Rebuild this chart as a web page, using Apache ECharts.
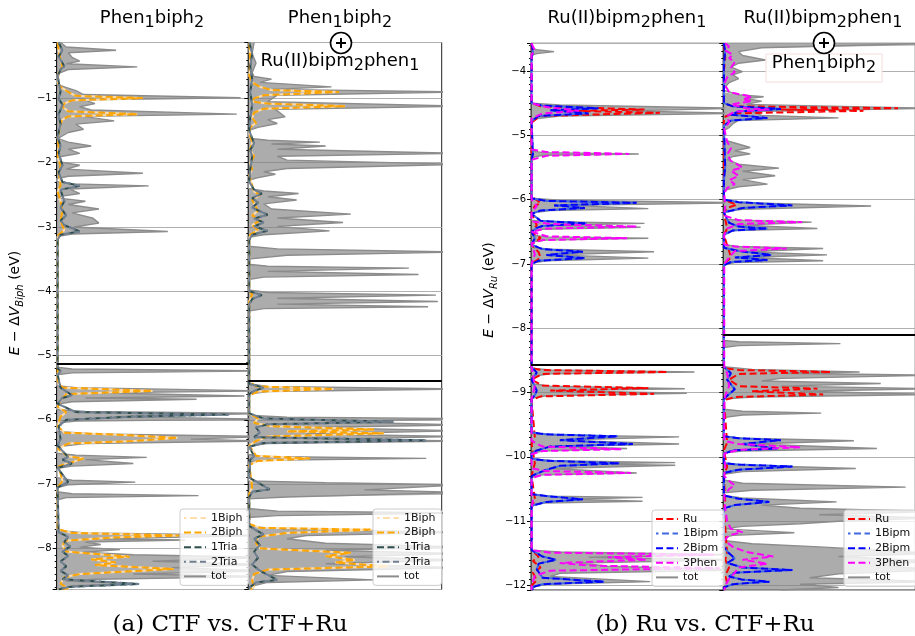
<!DOCTYPE html>
<html>
<head>
<meta charset="utf-8">
<script src="https://cdn.jsdelivr.net/npm/echarts@6/dist/echarts.min.js"></script>
<style>
  html, body { margin: 0; padding: 0; background: #fff; }
  #chart { width: 915px; height: 636px; }
</style>
</head>
<body>
<div id="chart"></div>
<script>
// Projected densities of states. Every curve is a list of [DOS (% of panel width), E (eV)],
// ordered from the top of the energy window to the bottom.

// ---------- (a) CTF vs. CTF+Ru : energies relative to V_Biph ----------
const energyRangeA = [-8.64, -0.13];
const gapLineA = [-5.13, -5.39];

const totA1 = [
  [2,-0.13],[5,-0.2],[31,-0.25],[6,-0.29],[8,-0.36],[12,-0.42],[5,-0.46],[42,-0.51],[6,-0.55],[2,-0.6],[0,-0.63],
  [0,-0.78],[4,-0.82],[10,-0.88],[14,-0.94],[96,-0.99],[14,-1.02],[20,-1.08],[12,-1.13],[18,-1.18],[94,-1.245],[14,-1.28],[30,-1.35],[10,-1.4],[14,-1.48],[6,-1.53],[2,-1.6],[0,-1.62],
  [0,-1.64],[6,-1.68],[18,-1.74],[6,-1.79],[12,-1.855],[3,-1.9],[0,-1.93],
  [0,-1.98],[12,-2.04],[5,-2.1],[45,-2.165],[6,-2.21],[0,-2.25],
  [0,-2.29],[8,-2.33],[48,-2.36],[7,-2.41],[12,-2.48],[3,-2.52],[0,-2.55],
  [0,-2.57],[15,-2.6],[6,-2.65],[22,-2.72],[8,-2.78],[19,-2.865],[22,-2.94],[9,-3.0],[58,-3.07],[8,-3.11],[0,-3.15],
  [0,-5.18],[8,-5.21],[110,-5.24],[8,-5.27],[0,-5.3],
  [0,-5.47],[10,-5.5],[110,-5.55],[20,-5.58],[98,-5.63],[15,-5.66],[73,-5.68],[8,-5.72],[0,-5.76],
  [0,-5.84],[15,-5.87],[110,-5.9],[30,-5.95],[110,-5.99],[10,-6.02],[0,-6.05],
  [0,-6.18],[20,-6.22],[110,-6.26],[70,-6.3],[110,-6.33],[15,-6.37],[0,-6.42],
  [0,-6.52],[10,-6.55],[47,-6.585],[15,-6.62],[40,-6.68],[8,-6.72],[0,-6.76],
  [0,-6.9],[8,-6.94],[41,-6.97],[6,-7.01],[0,-7.06],
  [0,-7.12],[8,-7.15],[74,-7.18],[5,-7.21],[0,-7.25],
  [0,-7.72],[15,-7.76],[110,-7.8],[20,-7.85],[67,-7.87],[15,-7.9],[23,-7.94],[12,-7.98],[33,-8.02],[14,-8.06],
  [40,-8.1],[110,-8.14],[50,-8.2],[110,-8.25],[60,-8.3],[110,-8.35],[40,-8.4],[110,-8.44],[20,-8.48],[5,-8.51],[43,-8.55],[8,-8.58],[3,-8.64]
];
const biphA1 = [
  [0.5,-0.13],[1,-0.25],[2,-0.4],[3,-0.5],[1,-0.6],[0.5,-0.75],
  [2,-0.82],[6,-0.9],[10,-0.96],[45,-0.995],[8,-1.03],[4,-1.08],[3,-1.13],[6,-1.2],[42,-1.245],[6,-1.28],[3,-1.33],[2,-1.4],[1.5,-1.5],[0.5,-1.6],
  [1,-1.75],[0.5,-1.9],[2,-2.05],[1,-2.15],[2,-2.35],[0.5,-2.45],[2,-2.6],[3,-2.75],[2,-2.9],[4,-3.05],[1,-3.12],[0.5,-3.2],
  [0.5,-5.4],[3,-5.5],[50,-5.55],[5,-5.6],[2,-5.7],[0.5,-5.8],[5,-5.88],[2,-5.95],[0.5,-6.1],[4,-6.2],[30,-6.23],[63,-6.28],[40,-6.33],[6,-6.37],[0.5,-6.45],
  [6,-6.57],[14,-6.6],[8,-6.66],[1,-6.72],[3,-6.95],[0.5,-7.05],
  [0.5,-7.7],[8,-7.76],[64,-7.8],[30,-7.83],[5,-7.88],[3,-7.95],[5,-8.05],[38,-8.13],[18,-8.17],[31,-8.22],[20,-8.26],[61,-8.32],[12,-8.4],[4,-8.45],[2,-8.55],[6,-8.62],[1,-8.64]
];
const triaA1 = [
  [1,-0.13],[3,-0.25],[1,-0.35],[4,-0.5],[2,-0.55],[0.5,-0.65],[2,-0.9],[1,-1.0],[3,-1.1],[1,-1.25],[2,-1.4],[0.5,-1.6],[2,-1.74],[1,-1.85],
  [3,-2.04],[1,-2.15],[3,-2.3],[12,-2.36],[2,-2.42],[4,-2.6],[2,-2.7],[5,-2.82],[2,-2.9],[4,-2.97],[12,-3.07],[2,-3.12],[0.5,-3.2],
  [0.5,-5.2],[2,-5.24],[0.5,-5.3],[2,-5.5],[8,-5.62],[3,-5.66],[0.5,-5.75],[10,-5.88],[90,-5.92],[40,-5.95],[5,-6.0],[1,-6.1],[2,-6.3],[0.5,-6.4],
  [6,-6.58],[3,-6.62],[8,-6.68],[0.5,-6.75],[6,-6.97],[0.5,-7.05],
  [1,-7.75],[6,-7.82],[4,-7.9],[7,-7.97],[3,-8.05],[6,-8.12],[2,-8.2],[5,-8.28],[2,-8.35],[6,-8.42],[3,-8.48],[43,-8.555],[6,-8.6],[1,-8.64]
];

const totA2 = [
  [3,-0.13],[2,-0.3],[4,-0.45],[2,-0.6],[3,-0.66],[12,-0.7],[6,-0.75],[43,-0.82],[12,-0.86],[110,-0.9],[15,-0.95],[10,-1.05],[110,-1.12],[14,-1.17],[19,-1.285],[10,-1.33],[15,-1.39],[5,-1.45],[0,-1.5],
  [0,-1.62],[10,-1.65],[37,-1.68],[12,-1.71],[40,-1.74],[15,-1.79],[110,-1.855],[15,-1.9],[20,-1.96],[110,-2.025],[20,-2.09],[8,-2.14],[14,-2.18],[4,-2.24],[0,-2.28],
  [0,-2.4],[8,-2.44],[26,-2.48],[10,-2.53],[25,-2.58],[8,-2.64],[12,-2.72],[53,-2.8],[15,-2.86],[49,-2.93],[15,-2.99],[42,-3.06],[8,-3.12],[0,-3.16],
  [0,-3.3],[15,-3.34],[110,-3.39],[20,-3.44],[0,-3.5],
  [0,-3.58],[10,-3.61],[83,-3.64],[10,-3.69],[88,-3.74],[8,-3.78],[0,-3.82],
  [0,-3.98],[10,-4.02],[97,-4.06],[15,-4.11],[98,-4.16],[15,-4.2],[93,-4.24],[8,-4.27],[0,-4.31],
  [0,-5.44],[10,-5.48],[110,-5.52],[10,-5.56],[0,-5.6],
  [0,-5.93],[20,-5.96],[110,-5.98],[40,-6.03],[110,-6.08],[30,-6.12],[110,-6.17],[30,-6.22],[110,-6.26],[40,-6.3],[110,-6.33],[10,-6.37],[0,-6.41],
  [0,-6.54],[8,-6.57],[92,-6.6],[8,-6.63],[0,-6.66],
  [0,-6.95],[40,-6.98],[110,-7.01],[60,-7.09],[110,-7.13],[110,-7.16],[20,-7.2],[0,-7.23],
  [0,-7.38],[15,-7.42],[110,-7.45],[15,-7.49],[0,-7.52],
  [0,-7.66],[20,-7.7],[110,-7.75],[30,-7.8],[20,-7.85],[40,-7.92],[110,-7.98],[40,-8.03],[110,-8.08],[50,-8.13],[110,-8.18],[40,-8.24],[110,-8.3],[20,-8.36],[10,-8.42],[65,-8.49],[10,-8.53],[3,-8.58],[2,-8.64]
];
const biphA2 = [
  [0.5,-0.13],[1,-0.4],[0.5,-0.65],[2,-0.75],[6,-0.82],[12,-0.87],[47,-0.9],[8,-0.95],[3,-1.0],[2,-1.05],[10,-1.08],[50,-1.12],[8,-1.16],[3,-1.22],[2,-1.3],[4,-1.38],[1,-1.45],[0.5,-1.55],
  [2,-1.68],[1,-1.8],[3,-1.9],[1,-2.0],[2,-2.1],[0.5,-2.2],[3,-2.45],[6,-2.5],[2,-2.58],[5,-2.75],[2,-2.82],[6,-2.9],[2,-2.97],[5,-3.05],[1,-3.12],[0.5,-3.2],
  [0.5,-4.0],[2,-4.05],[0.5,-4.15],
  [0.5,-5.4],[4,-5.48],[44,-5.52],[5,-5.56],[0.5,-5.62],[0.5,-5.9],[5,-5.98],[3,-6.05],[12,-6.1],[65,-6.15],[20,-6.18],[70,-6.21],[10,-6.26],[4,-6.33],[0.5,-6.4],
  [4,-6.56],[32,-6.6],[5,-6.64],[0.5,-6.7],[2,-7.05],[0.5,-7.15],
  [0.5,-7.62],[6,-7.68],[64,-7.71],[20,-7.76],[5,-7.82],[4,-7.92],[6,-8.0],[53,-8.07],[40,-8.12],[55,-8.18],[45,-8.22],[72,-8.28],[10,-8.33],[3,-8.4],[2,-8.5],[3,-8.6],[1,-8.64]
];
const triaA2 = [
  [0.5,-0.13],[2,-0.3],[1,-0.5],[2,-0.7],[1,-0.9],[2,-1.1],[1,-1.3],[0.5,-1.5],[3,-1.7],[1,-1.8],[2,-1.9],[1,-2.1],[0.5,-2.3],
  [3,-2.42],[7,-2.48],[2,-2.55],[5,-2.62],[2,-2.7],[10,-2.81],[3,-2.87],[8,-2.93],[3,-2.99],[10,-3.06],[2,-3.12],[0.5,-3.2],
  [0.5,-4.0],[7,-4.06],[2,-4.12],[0.5,-4.2],
  [0.5,-5.44],[8,-5.5],[3,-5.55],[0.5,-5.6],[0.5,-5.9],[8,-5.98],[75,-6.03],[10,-6.07],[4,-6.12],[6,-6.2],[3,-6.27],[92,-6.32],[8,-6.36],[0.5,-6.42],
  [3,-6.57],[1,-6.62],[0.5,-6.9],[11,-7.08],[2,-7.12],[0.5,-7.2],
  [0.5,-7.65],[4,-7.72],[8,-7.78],[3,-7.85],[6,-7.95],[3,-8.05],[5,-8.15],[2,-8.25],[6,-8.35],[15,-8.49],[4,-8.53],[1,-8.6],[0.5,-8.64]
];

// ---------- (b) Ru vs. CTF+Ru : energies relative to V_Ru ----------
const energyRangeB = [-12.07, -3.57];
const gapLineB = [-8.575, -8.1];

const totB1 = [
  [0,-3.57],[0,-3.64],[3,-3.67],[12,-3.7],[3,-3.73],[0,-3.76],
  [0,-4.5],[15,-4.53],[110,-4.58],[50,-4.62],[110,-4.66],[15,-4.7],[0,-4.75],
  [0,-5.24],[6,-5.27],[56,-5.29],[6,-5.31],[0,-5.35],
  [0,-5.98],[15,-6.01],[110,-6.05],[20,-6.09],[61,-6.14],[10,-6.17],[0,-6.21],
  [0,-6.32],[8,-6.34],[59,-6.37],[12,-6.4],[57,-6.43],[6,-6.46],[0,-6.5],
  [0,-6.55],[8,-6.58],[61,-6.6],[8,-6.63],[0,-6.66],
  [0,-6.74],[10,-6.77],[64,-6.81],[12,-6.86],[61,-6.91],[8,-6.95],[0,-6.99],
  [0,-8.62],[10,-8.65],[85,-8.68],[10,-8.71],[0,-8.75],
  [0,-8.86],[10,-8.9],[80,-8.94],[15,-8.97],[81,-9.01],[8,-9.05],[0,-9.09],
  [0,-9.63],[10,-9.66],[77,-9.69],[15,-9.74],[77,-9.8],[12,-9.84],[50,-9.87],[6,-9.91],[0,-9.95],
  [0,-10.03],[12,-10.06],[75,-10.09],[20,-10.11],[75,-10.13],[10,-10.18],[55,-10.25],[6,-10.28],[0,-10.32],
  [0,-10.58],[10,-10.61],[58,-10.63],[20,-10.66],[58,-10.69],[6,-10.72],[0,-10.76],
  [0,-11.45],[15,-11.48],[110,-11.52],[30,-11.56],[110,-11.6],[25,-11.65],[40,-11.7],[110,-11.76],[15,-11.81],[10,-11.86],[62,-11.94],[8,-11.98],[2,-12.02],[0,-12.07]
];
const ruB1 = [
  [0.3,-3.57],[0.5,-3.7],[0.3,-4.5],[5,-4.55],[59,-4.6],[20,-4.62],[67,-4.65],[5,-4.7],[0.3,-4.8],
  [0.3,-5.95],[5,-6.05],[2,-6.1],[0.3,-6.2],[3,-6.4],[0.3,-6.5],[5,-6.6],[0.3,-6.7],[4,-6.82],[5,-6.9],[0.3,-7.0],
  [0.3,-8.62],[6,-8.65],[71,-8.68],[6,-8.71],[0.3,-8.8],[6,-8.89],[61,-8.93],[10,-8.97],[64,-9.02],[5,-9.06],[0.3,-9.12],
  [2,-9.7],[0.3,-9.8],[2,-10.1],[0.3,-10.3],[2,-10.65],[0.3,-10.8],[0.3,-11.45],[4,-11.55],[1,-11.62],[5,-11.72],[1,-11.8],[3,-11.92],[0.3,-12.0],[0.5,-12.07]
];
const bipmB1 = [
  [0.3,-3.57],[1,-3.7],[0.3,-3.8],[0.3,-4.5],[6,-4.54],[35,-4.58],[10,-4.61],[30,-4.66],[4,-4.7],[0.3,-4.78],[1,-5.29],[0.3,-5.4],
  [0.3,-5.98],[8,-6.02],[55,-6.05],[12,-6.09],[28,-6.13],[5,-6.17],[0.3,-6.22],[5,-6.33],[29,-6.37],[6,-6.41],[3,-6.44],[0.3,-6.5],[2,-6.6],[0.3,-6.7],
  [6,-6.77],[27,-6.81],[8,-6.86],[28,-6.91],[4,-6.95],[0.3,-7.0],
  [0.3,-8.6],[3,-8.69],[0.3,-8.8],[3,-8.97],[2,-9.04],[0.3,-9.1],[0.3,-9.62],[8,-9.65],[45,-9.68],[15,-9.74],[53,-9.8],[10,-9.84],[3,-9.9],[0.3,-9.95],
  [0.3,-10.03],[8,-10.06],[46,-10.1],[15,-10.14],[8,-10.2],[3,-10.26],[0.3,-10.3],[0.3,-10.58],[8,-10.61],[27,-10.66],[8,-10.7],[0.3,-10.76],
  [0.3,-11.45],[6,-11.55],[13,-11.6],[4,-11.66],[3,-11.75],[6,-11.88],[38,-11.94],[6,-11.98],[0.3,-12.03],[1,-12.07]
];
const phenB1 = [
  [0.3,-3.57],[2,-3.68],[0.3,-3.75],[0.3,-4.5],[8,-4.56],[25,-4.62],[6,-4.66],[0.3,-4.74],
  [0.3,-5.22],[8,-5.26],[51,-5.29],[8,-5.32],[0.3,-5.38],[0.3,-6.0],[3,-6.1],[0.3,-6.2],
  [0.3,-6.34],[10,-6.38],[55,-6.42],[8,-6.45],[0.3,-6.5],[8,-6.57],[50,-6.6],[6,-6.63],[0.3,-6.68],[2,-6.85],[0.3,-7.0],
  [0.3,-8.6],[2,-8.9],[0.3,-9.1],[0.3,-9.75],[6,-9.84],[47,-9.88],[6,-9.91],[0.3,-9.96],
  [0.3,-10.18],[8,-10.22],[52,-10.25],[6,-10.28],[0.3,-10.33],[0.3,-10.6],[1,-10.68],[0.3,-10.8],
  [0.3,-11.45],[10,-11.49],[95,-11.52],[40,-11.56],[60,-11.6],[15,-11.65],[30,-11.69],[98,-11.73],[10,-11.77],[2,-11.85],[0.3,-12.0],[0.3,-12.07]
];

const totB2 = [
  [110,-3.57],[110,-3.6],[20,-3.64],[8,-3.7],[10,-3.76],[22,-3.83],[8,-3.88],[4,-3.94],[10,-4.01],[5,-4.06],[8,-4.12],[3,-4.18],[1,-4.25],[0,-4.3],
  [0,-4.33],[8,-4.37],[21,-4.4],[12,-4.43],[20,-4.47],[12,-4.52],[110,-4.58],[15,-4.63],[20,-4.69],[60,-4.73],[8,-4.77],[5,-4.82],[3,-4.88],[0,-4.93],
  [0,-5.07],[6,-5.12],[14,-5.19],[6,-5.24],[14,-5.29],[5,-5.33],[2,-5.38],[8,-5.45],[29,-5.51],[10,-5.56],[27,-5.63],[10,-5.69],[23,-5.76],[8,-5.8],[0,-5.86],
  [0,-6.02],[10,-6.05],[77,-6.1],[10,-6.15],[0,-6.19],
  [0,-6.3],[8,-6.32],[46,-6.35],[10,-6.4],[49,-6.45],[6,-6.48],[0,-6.52],
  [0,-6.7],[8,-6.73],[52,-6.76],[12,-6.81],[54,-6.86],[12,-6.9],[52,-6.95],[6,-6.98],[0,-7.02],
  [0,-8.19],[8,-8.21],[61,-8.24],[8,-8.27],[0,-8.3],
  [0,-8.6],[15,-8.64],[71,-8.68],[30,-8.7],[110,-8.73],[30,-8.78],[20,-8.82],[82,-8.86],[30,-8.9],[110,-8.94],[40,-8.98],[110,-9.03],[15,-9.07],[0,-9.1],
  [0,-9.26],[10,-9.29],[51,-9.32],[10,-9.35],[0,-9.39],
  [0,-9.68],[10,-9.71],[68,-9.75],[15,-9.8],[80,-9.87],[10,-9.91],[0,-9.94],
  [0,-10.1],[10,-10.13],[69,-10.18],[10,-10.23],[0,-10.27],
  [0,-10.36],[10,-10.41],[95,-10.47],[15,-10.52],[0,-10.56],
  [0,-10.6],[10,-10.64],[59,-10.7],[20,-10.75],[40,-10.8],[110,-10.85],[50,-10.9],[110,-10.95],[60,-11.0],[40,-11.04],[10,-11.08],[0,-11.12],
  [0,-11.14],[37,-11.18],[5,-11.22],[0,-11.26],
  [0,-11.3],[15,-11.35],[50,-11.4],[110,-11.5],[60,-11.55],[110,-11.62],[80,-11.68],[110,-11.76],[60,-11.82],[45,-11.88],[110,-11.94],[40,-11.98],[60,-12.03],[30,-12.07]
];
const ruB2 = [
  [0.3,-3.57],[1,-3.8],[0.3,-4.0],[0.3,-4.5],[5,-4.55],[91,-4.58],[30,-4.6],[73,-4.62],[5,-4.66],[0.3,-4.72],
  [0.3,-6.0],[7,-6.08],[2,-6.13],[0.3,-6.2],[2,-6.45],[0.3,-6.55],[3,-6.8],[4,-6.9],[0.3,-7.0],
  [0.3,-8.62],[8,-8.65],[56,-8.68],[8,-8.71],[3,-8.8],[8,-8.9],[49,-8.94],[15,-8.98],[52,-9.03],[6,-9.07],[0.3,-9.12],
  [2,-9.78],[0.3,-9.9],[2,-10.15],[0.3,-10.3],[1,-10.7],[0.3,-10.8],[2,-11.5],[1,-11.6],[3,-11.72],[1,-11.85],[2,-11.95],[0.3,-12.07]
];
const bipmB2 = [
  [0.3,-3.57],[1,-3.7],[0.3,-3.9],[0.3,-4.5],[5,-4.55],[30,-4.59],[8,-4.63],[4,-4.68],[23,-4.73],[4,-4.77],[0.3,-4.85],[1,-5.5],[0.3,-5.7],
  [0.3,-6.0],[8,-6.04],[36,-6.09],[10,-6.13],[0.3,-6.2],[3,-6.36],[8,-6.42],[23,-6.45],[5,-6.48],[0.3,-6.55],
  [0.3,-6.75],[8,-6.8],[25,-6.86],[6,-6.9],[23,-6.94],[4,-6.97],[0.3,-7.02],
  [0.3,-8.6],[4,-8.7],[2,-8.8],[6,-8.95],[2,-9.05],[0.3,-9.1],[0.3,-9.68],[8,-9.71],[30,-9.74],[10,-9.8],[28,-9.87],[5,-9.9],[0.3,-9.95],
  [0.3,-10.1],[8,-10.12],[36,-10.15],[8,-10.2],[0.3,-10.25],[0.3,-10.6],[8,-10.65],[24,-10.7],[6,-10.75],[0.3,-10.8],
  [0.3,-11.4],[3,-11.5],[6,-11.58],[2,-11.65],[10,-11.72],[36,-11.76],[6,-11.8],[3,-11.86],[10,-11.91],[24,-11.94],[5,-11.98],[0.3,-12.03],[0.5,-12.07]
];
const phenB2 = [
  [1,-3.57],[3,-3.62],[1,-3.68],[5,-3.75],[3,-3.8],[6,-3.86],[4,-3.95],[6,-4.02],[2,-4.1],[0.5,-4.2],
  [3,-4.33],[15,-4.4],[10,-4.44],[15,-4.47],[4,-4.52],[12,-4.58],[24,-4.6],[6,-4.63],[2,-4.7],[3,-4.8],[0.5,-4.9],
  [2,-5.1],[4,-5.2],[2,-5.3],[4,-5.4],[10,-5.5],[4,-5.55],[8,-5.63],[3,-5.7],[6,-5.76],[2,-5.82],[0.5,-5.9],[1,-6.1],[0.5,-6.25],
  [8,-6.32],[41,-6.35],[8,-6.38],[2,-6.45],[0.5,-6.55],[0.5,-6.7],[6,-6.73],[33,-6.76],[6,-6.8],[3,-6.9],[0.5,-7.0],
  [0.5,-8.6],[2,-8.7],[3,-8.9],[1,-9.05],[0.5,-9.2],[0.5,-9.75],[8,-9.8],[40,-9.85],[8,-9.89],[0.5,-9.95],[1,-10.15],[0.5,-10.3],
  [4,-10.4],[6,-10.44],[3,-10.5],[0.5,-10.6],[1,-10.8],[2,-11.0],[4,-11.12],[10,-11.17],[3,-11.22],[0.5,-11.3],
  [5,-11.4],[12,-11.48],[26,-11.55],[10,-11.6],[23,-11.66],[8,-11.72],[6,-11.8],[3,-11.9],[1,-12.0],[0.5,-12.07]
];

const legendA = ['1Biph', '2Biph', '1Tria', '2Tria', 'tot'];
const legendB = ['Ru', '1Bipm', '2Bipm', '3Phen', 'tot'];

// ---------- styling ----------
const FONT = 'DejaVu Sans';
const TOT_FILL = 'rgba(128,128,128,0.65)';
const TOT_LINE = '#8c8c8c';
const DASH = [7, 3.5];
const colors = {
  '1Biph': '#ffdead', '2Biph': '#ffa500', '1Tria': '#2f4f4f', '2Tria': '#708090',
  'Ru': '#ff0000', '1Bipm': '#4169e1', '2Bipm': '#0000ff', '3Phen': '#ff00ff'
};

const panels = [
  { left: 56.7,  top: 42.5, width: 191.6, height: 547,   range: energyRangeA, gap: gapLineA[0], labels: true,
    tot: totA1, proj: [['1Biph', biphA1, 4.5], ['2Biph', biphA1, 0], ['1Tria', triaA1, 0], ['2Tria', triaA1, 5]] },
  { left: 248.3, top: 42.5, width: 193.4, height: 547,   range: energyRangeA, gap: gapLineA[1], labels: false,
    tot: totA2, proj: [['1Biph', biphA2, 4.5], ['2Biph', biphA2, 0], ['1Tria', triaA2, 0], ['2Tria', triaA2, 5]] },
  { left: 531,   top: 43.3, width: 192.3, height: 546.7, range: energyRangeB, gap: gapLineB[0], labels: true,
    tot: totB1, proj: [['Ru', ruB1, 0], ['1Bipm', bipmB1, 4.5], ['2Bipm', bipmB1, 0], ['3Phen', phenB1, 0]] },
  { left: 723.3, top: 43.3, width: 192,   height: 546.7, range: energyRangeB, gap: gapLineB[1], labels: false,
    tot: totB2, proj: [['Ru', ruB2, 0], ['1Bipm', bipmB2, 4.5], ['2Bipm', bipmB2, 0], ['3Phen', phenB2, 0]] }
];

const grid = [], xAxis = [], yAxis = [], series = [];

panels.forEach((p, gi) => {
  grid.push({ left: p.left, top: p.top, width: p.width, height: p.height, show: true,
              borderColor: '#222', borderWidth: 1, backgroundColor: 'transparent',
              containLabel: false, outerBoundsMode: 'none' });
  xAxis.push({ type: 'value', gridIndex: gi, min: 0, max: 100, show: false });
  yAxis.push({
    type: 'value', gridIndex: gi, min: p.range[0], max: p.range[1],
    splitNumber: 8, minInterval: 1, maxInterval: 1,
    axisLine: { show: true, onZero: false, lineStyle: { color: '#000', width: 1 } },
    axisTick: { show: true, length: 4, lineStyle: { color: '#000', width: 1 } },
    minorTick: { show: true, splitNumber: 10, length: 2, lineStyle: { color: '#000', width: 1 } },
    splitLine: { show: true, lineStyle: { color: '#b0b0b0', width: 1 } },
    axisLabel: { show: p.labels, margin: 5, fontSize: 10, color: '#000', fontFamily: FONT,
                 showMinLabel: false, showMaxLabel: false,
                 formatter: v => String(v).replace('-', '\u2212') }
  });

  // shaded total DOS, closed against DOS = 0
  const tot = p.tot;
  series.push({
    type: 'custom', name: 'totFill' + gi, xAxisIndex: gi, yAxisIndex: gi, clip: true, silent: true, z: 1,
    data: tot,
    renderItem: function (params, api) {
      if (params.dataIndex !== 0) return null;
      const pts = [api.coord([0, tot[0][1]])];
      tot.forEach(d => pts.push(api.coord(d)));
      pts.push(api.coord([0, tot[tot.length - 1][1]]));
      return { type: 'polygon', shape: { points: pts }, style: { fill: TOT_FILL, stroke: null } };
    }
  });
  // total DOS outline, plus the black level line
  series.push({
    type: 'line', name: 'tot', xAxisIndex: gi, yAxisIndex: gi, data: tot, clip: true, z: 2,
    symbol: 'none', showSymbol: false, silent: true, emphasis: { disabled: true },
    lineStyle: { color: TOT_LINE, width: 1.4, type: 'solid' }, itemStyle: { color: TOT_LINE },
    markLine: { silent: true, symbol: ['none', 'none'], label: { show: false }, animation: false,
                lineStyle: { color: '#000', width: 2, type: 'solid' }, data: [{ yAxis: p.gap }] }
  });
  p.proj.forEach(([name, data, offset]) => {
    series.push({
      type: 'line', name: name, xAxisIndex: gi, yAxisIndex: gi, data: data, clip: true, z: 3,
      symbol: 'none', showSymbol: false, silent: true, emphasis: { disabled: true },
      lineStyle: { color: colors[name], width: 2, type: DASH, dashOffset: offset },
      itemStyle: { color: colors[name] }
    });
  });
});

function legendAt(left, top, names) {
  return {
    data: names, orient: 'vertical', left: left, top: top,
    itemWidth: 22, itemHeight: 12, itemGap: 2.6, padding: [3, 6, 3, 3],
    backgroundColor: 'rgba(255,255,255,0.8)', borderColor: '#cccccc', borderWidth: 1, borderRadius: 3,
    itemStyle: { opacity: 0 },
    lineStyle: { width: 2 },
    textStyle: { fontSize: 11, lineHeight: 12, fontFamily: FONT, color: '#111' },
    selectedMode: false
  };
}

// rich-text helpers for subscripts
const richTitle = {
  m: { fontSize: 18, fontFamily: FONT, color: '#000', verticalAlign: 'top' },
  s: { fontSize: 16, fontFamily: FONT, color: '#000', verticalAlign: 'top', padding: [5, 0, 0, 0] }
};
const richLabel = {
  i: { fontSize: 14, fontFamily: FONT, fontStyle: 'italic', color: '#000', verticalAlign: 'top' },
  n: { fontSize: 14, fontFamily: FONT, color: '#000', verticalAlign: 'top' },
  s: { fontSize: 10, fontFamily: FONT, fontStyle: 'italic', color: '#000', verticalAlign: 'top', padding: [7, 0, 0, 0] }
};
const CTF = '{m|Phen}{s|1}{m|biph}{s|2}';
const RU = '{m|Ru(II)bipm}{s|2}{m|phen}{s|1}';

function title(x, y, text, extra) {
  return Object.assign({ type: 'text', x: x, y: y, z: 50,
    style: { text: text, rich: richTitle, align: 'center', verticalAlign: 'middle' } }, extra || {});
}
function oplus(cx, cy) {
  return [
    { type: 'circle', z: 60, shape: { cx: cx, cy: cy, r: 10.5 }, style: { fill: '#fff', stroke: '#000', lineWidth: 1.6 } },
    { type: 'line', z: 61, shape: { x1: cx - 5, y1: cy, x2: cx + 5, y2: cy }, style: { stroke: '#000', lineWidth: 2 } },
    { type: 'line', z: 61, shape: { x1: cx, y1: cy - 5, x2: cx, y2: cy + 5 }, style: { stroke: '#000', lineWidth: 2 } }
  ];
}

const graphic = [
  title(152, 20, CTF),
  title(340, 20, CTF),
  title(627, 20, RU),
  title(823, 20, RU),
  title(340, 63, RU),
  { type: 'rect', z: 49, shape: { x: 766, y: 54, width: 116, height: 28 },
    style: { fill: 'rgba(255,255,255,0.9)', stroke: '#f3dede', lineWidth: 1 } },
  title(824, 65, CTF),
  ...oplus(341, 43),
  ...oplus(824, 43),
  { type: 'text', x: 17, y: 303, rotation: Math.PI / 2, z: 50,
    style: { text: '{i|E}{n| \u2212 \u0394}{i|V}{s|Biph}{n| (eV)}', rich: richLabel, align: 'center', verticalAlign: 'middle' } },
  { type: 'text', x: 491, y: 290, rotation: Math.PI / 2, z: 50,
    style: { text: '{i|E}{n| \u2212 \u0394}{i|V}{s|Ru}{n| (eV)}', rich: richLabel, align: 'center', verticalAlign: 'middle' } },
  { type: 'text', x: 230, y: 625, z: 50,
    style: { text: '(a) CTF vs. CTF+Ru', font: '23px "DejaVu Serif"', fill: '#000', align: 'center', verticalAlign: 'middle' } },
  { type: 'text', x: 705, y: 625, z: 50,
    style: { text: '(b) Ru vs. CTF+Ru', font: '23px "DejaVu Serif"', fill: '#000', align: 'center', verticalAlign: 'middle' } }
];

const chart = echarts.init(document.getElementById('chart'), null, { renderer: 'canvas' });
chart.setOption({
  animation: false,
  backgroundColor: '#fff',
  grid: grid,
  xAxis: xAxis,
  yAxis: yAxis,
  legend: [legendAt(180, 509, legendA), legendAt(373, 509, legendA), legendAt(652, 510, legendB), legendAt(844, 510, legendB)],
  series: series,
  graphic: graphic
});
</script>
</body>
</html>
